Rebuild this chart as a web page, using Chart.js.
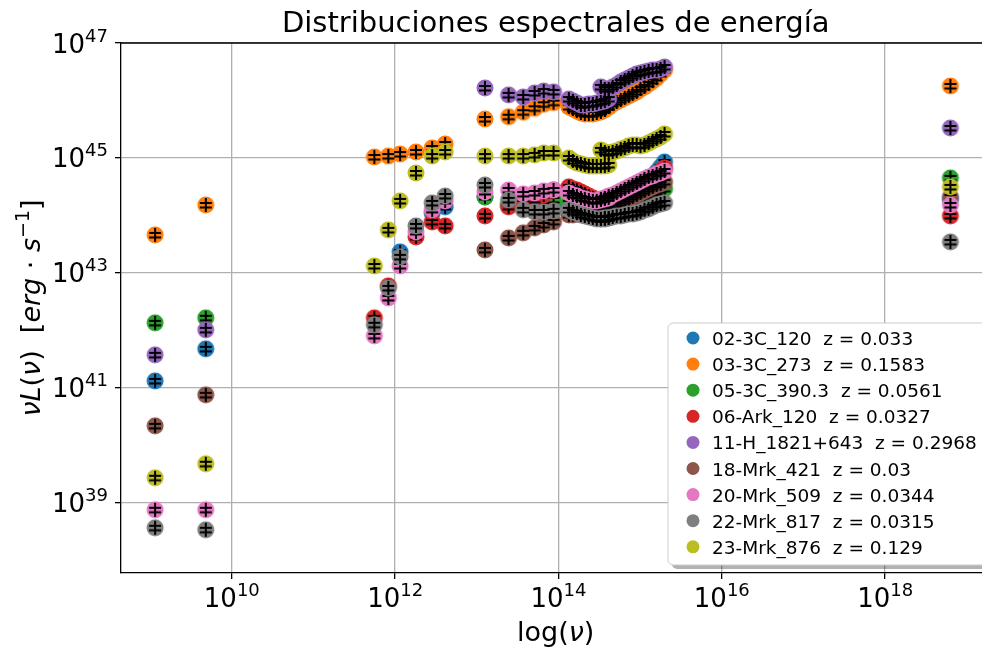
<!DOCTYPE html>
<html>
<head>
<meta charset="utf-8">
<script src="https://cdn.jsdelivr.net/npm/chart.js@4.4.0/dist/chart.umd.min.js"></script>
<style>
  html, body { margin: 0; padding: 0; overflow: hidden; background: #fff; }
  canvas { display: block; }
</style>
</head>
<body>
<canvas id="sedChart" width="1000" height="650"></canvas>
<script>
// frequencies (Hz) of each group of bands
const nuRadio = [1.15e9, 4.8e9];
const nuIR = [5.57e11, 8.26e11, 1.15e12, 1.8e12, 2.84e12, 4.1e12];
const nuFIR = [1.26e13];
const nuMIR = [2.45e13, 3.7e13, 5.1e13, 6.6e13, 8.7e13];
const nuOpt = [1.34e14, 1.50e14, 1.68e14, 1.88e14, 2.10e14, 2.35e14, 2.63e14, 2.94e14, 3.30e14, 3.69e14, 4.12e14];
const nuUV = [3.30e14, 3.69e14, 4.12e14, 4.61e14, 5.16e14, 5.78e14, 6.47e14, 7.24e14, 8.09e14,
  9.06e14, 1.01e15, 1.13e15, 1.27e15, 1.42e15, 1.59e15, 1.78e15, 1.99e15];
const nuX = [6.3e18];

const xTicks = [1e10, 1e12, 1e14, 1e16, 1e18];
const yTicks = [1e39, 1e41, 1e43, 1e45, 1e47];

const labels = ['02-3C_120  z = 0.033', '03-3C_273  z = 0.1583', '05-3C_390.3  z = 0.0561',
  '06-Ark_120  z = 0.0327', '11-H_1821+643  z = 0.2968', '18-Mrk_421  z = 0.03',
  '20-Mrk_509  z = 0.0344', '22-Mrk_817  z = 0.0315', '23-Mrk_876  z = 0.129'];
const colors = ['#1f77b4', '#ff7f0e', '#2ca02c', '#d62728', '#9467bd', '#8c564b', '#e377c2', '#7f7f7f', '#bcbd22'];

// nuL(nu) in erg/s, one entry per frequency: radio(2) ir(6) fir(1) mir(5) opt(11) uv(17) x(1)
const L_02 = [1.32e41, 4.77e41,
  null, null, 2.32e43, null, 1.10e44, 1.41e44,
  2.10e44,
  1.46e44, 1.41e44, 1.46e44, 1.52e44, 1.58e44,
  1.25e44, 1.20e44, 1.15e44, 1.10e44, 1.06e44, 1.02e44, 9.80e43, 9.42e43, 9.06e43, 9.42e43, 9.80e43,
  9.06e43, 9.42e43, 9.42e43, 9.80e43, 1.02e44, 1.10e44, 1.20e44, 1.35e44, 1.52e44, 1.72e44, 2.10e44, 2.56e44,
  3.39e44, 4.49e44, 5.71e44, 6.97e44, 8.51e44,
  1.86e44];
const L_03 = [4.58e43, 1.52e44,
  1.04e45, 1.08e45, 1.17e45, 1.27e45, 1.49e45, 1.75e45,
  4.76e45,
  5.22e45, 6.24e45, 7.31e45, 8.59e45, 9.16e45,
  7.71e45, 7.12e45, 6.57e45, 6.06e45, 5.82e45, 5.82e45, 5.82e45, 6.06e45, 6.31e45, 6.84e45, 7.71e45,
  6.57e45, 7.12e45, 7.71e45, 8.69e45, 9.42e45, 1.02e46, 1.11e46, 1.20e46, 1.30e46, 1.41e46, 1.58e46, 1.72e46,
  1.94e46, 2.18e46, 2.46e46, 2.89e46, 3.39e46,
  1.79e46];
const L_05 = [1.35e42, 1.65e42,
  null, null, null, null, null, null,
  2.10e44,
  1.58e44, 1.65e44, 1.72e44, 1.79e44, 1.86e44,
  1.65e44, 1.58e44, 1.52e44, 1.46e44, 1.41e44, 1.35e44, 1.35e44, 1.35e44, 1.41e44, 1.41e44, 1.46e44,
  1.41e44, 1.46e44, 1.46e44, 1.52e44, 1.58e44, 1.65e44, 1.65e44, 1.79e44, 1.86e44, 1.94e44, 2.10e44, 2.18e44,
  2.27e44, 2.46e44, 2.56e44, 2.77e44, 2.89e44,
  4.49e44];
const L_06 = [null, null,
  1.65e42, 5.94e42, null, 4.23e43, 7.71e43, 6.57e43,
  9.80e43,
  1.41e44, 1.65e44, 1.86e44, 2.27e44, 2.77e44,
  3.13e44, 2.89e44, 2.77e44, 2.56e44, 2.37e44, 2.18e44, 2.01e44, 1.86e44, 1.79e44, 1.79e44, 1.86e44,
  1.79e44, 1.94e44, 2.01e44, 2.10e44, 2.18e44, 2.37e44, 2.56e44, 2.67e44, 2.89e44, 3.01e44, 3.26e44, 3.39e44,
  3.67e44, 4.31e44, 5.06e44, 5.94e44, 6.70e44,
  9.80e43];
const L_11 = [3.75e41, 1.02e42,
  null, null, null, null, null, null,
  1.65e46,
  1.25e46, 1.15e46, 1.35e46, 1.46e46, 1.41e46,
  1.06e46, 9.80e45, 9.05e45, 8.35e45, 8.35e45, 8.69e45, 8.69e45, 9.05e45, 9.42e45, 9.80e45, 1.06e46,
  1.72e46, 1.58e46, 1.58e46, 1.72e46, 1.86e46, 2.10e46, 2.27e46, 2.46e46, 2.67e46, 2.89e46, 3.01e46, 3.13e46,
  3.26e46, 3.39e46, 3.39e46, 3.53e46, 3.83e46,
  3.32e45];
const L_18 = [2.18e40, 7.55e40,
  null, null, null, null, null, null,
  2.51e43,
  4.06e43, 4.97e43, 6.07e43, 6.84e43, 7.71e43,
  1.02e44, 1.02e44, 1.06e44, 1.06e44, 1.10e44, 1.15e44, 1.15e44, 1.20e44, 1.20e44, 1.25e44, 1.30e44,
  1.25e44, 1.30e44, 1.35e44, 1.46e44, 1.52e44, 1.65e44, 1.79e44, 1.94e44, 2.10e44, 2.27e44, 2.46e44, 2.67e44,
  2.89e44, 3.13e44, 3.39e44, 3.53e44, 3.83e44,
  2.10e44];
const L_20 = [7.55e38, 7.55e38,
  8.02e41, 3.67e42, 1.32e43, 5.16e43, 1.25e44, 1.79e44,
  2.56e44,
  2.77e44, 2.37e44, 2.46e44, 2.67e44, 2.77e44,
  2.46e44, 2.27e44, 2.18e44, 2.01e44, 1.94e44, 1.86e44, 1.79e44, 1.79e44, 1.86e44, 1.94e44, 2.01e44,
  1.94e44, 2.01e44, 2.18e44, 2.27e44, 2.46e44, 2.67e44, 2.89e44, 3.13e44, 3.39e44, 3.67e44, 3.98e44, 4.31e44,
  4.67e44, 4.86e44, 5.27e44, 5.48e44, 5.94e44,
  1.52e44];
const L_22 = [3.67e38, 3.39e38,
  1.25e42, 5.48e42, 1.90e43, 6.57e43, 1.65e44, 2.18e44,
  3.39e44,
  1.86e44, 1.25e44, 1.15e44, 1.15e44, 1.20e44,
  1.25e44, 1.15e44, 1.10e44, 1.02e44, 9.80e43, 9.42e43, 9.06e43, 8.69e43, 8.69e43, 8.69e43, 9.06e43,
  8.69e43, 9.06e43, 9.06e43, 9.42e43, 9.80e43, 9.80e43, 1.02e44, 1.06e44, 1.06e44, 1.10e44, 1.15e44, 1.25e44,
  1.30e44, 1.41e44, 1.52e44, 1.58e44, 1.65e44,
  3.46e43];
const L_23 = [2.72e39, 4.77e39,
  1.32e43, 5.60e43, 1.79e44, 5.48e44, 1.08e45, 1.27e45,
  1.08e45,
  1.08e45, 1.08e45, 1.13e45, 1.22e45, 1.22e45,
  1.00e45, 8.87e44, 8.18e44, 7.87e44, 7.55e44, 7.26e44, 7.26e44, 7.26e44, 7.26e44, 7.26e44, 7.55e44,
  1.38e45, 1.27e45, 1.22e45, 1.27e45, 1.32e45, 1.43e45, 1.49e45, 1.62e45, 1.68e45, 1.68e45, 1.62e45, 1.68e45,
  1.82e45, 1.98e45, 2.14e45, 2.32e45, 2.61e45,
  3.13e44];
const series = [L_02, L_03, L_05, L_06, L_11, L_18, L_20, L_22, L_23];

// band index of every frequency; thin lines only inside mir / opt / uv
const bandNu = [nuRadio, nuIR, nuFIR, nuMIR, nuOpt, nuUV, nuX];
const allNu = [], bandOf = [];
bandNu.forEach((arr, b) => arr.forEach(v => { allNu.push(v); bandOf.push(b); }));
const lineBands = [3, 4, 5];

function makeDot(color) {
  const c = document.createElement('canvas');
  c.width = 20; c.height = 20;
  const g = c.getContext('2d');
  g.fillStyle = color;
  g.beginPath(); g.arc(10, 10, 8.5, 0, Math.PI * 2); g.fill();
  return c;
}

// black error bar mark, drawn over the dots of its own series
const barMark = (() => {
  const c = document.createElement('canvas');
  c.width = 20; c.height = 20;
  const g = c.getContext('2d');
  g.strokeStyle = '#000'; g.lineWidth = 2;
  g.beginPath();
  g.moveTo(10, 3); g.lineTo(10, 17);
  g.moveTo(4, 8); g.lineTo(16, 8);
  g.moveTo(4, 12.5); g.lineTo(16, 12.5);
  g.stroke();
  return c;
})();

const n = series.length;
const datasets = [];
series.forEach((vals, i) => {
  const pts = [];
  vals.forEach((v, k) => { if (v !== null) pts.push({ x: allNu[k], y: v, band: bandOf[k] }); });
  datasets.push({
    label: labels[i],
    data: pts,
    pointStyle: makeDot(colors[i]),
    pointRadius: 8.5,
    showLine: true,
    borderWidth: 1,
    borderColor: colors[i],
    segment: {
      borderColor: ctx => {
        const a = pts[ctx.p0DataIndex].band, b = pts[ctx.p1DataIndex].band;
        return (a === b && lineBands.includes(a)) ? colors[i] : 'rgba(0,0,0,0)';
      }
    },
    order: 2 * (n - i)
  });
  datasets.push({
    label: labels[i] + ' err',
    data: pts,
    pointStyle: barMark,
    pointRadius: 8.5,
    showLine: false,
    order: 2 * (n - i) - 1
  });
});

const F = '"DejaVu Sans"';

function drawPow(ctx, exp, x, base, align) {
  const big = '26px ' + F, small = '18px ' + F;
  ctx.font = big; const w1 = ctx.measureText('10').width;
  ctx.font = small; const w2 = ctx.measureText(String(exp)).width;
  let x0 = align === 'right' ? x - w1 - w2 : x - (w1 + w2) / 2;
  ctx.textAlign = 'left'; ctx.textBaseline = 'alphabetic';
  ctx.font = big; ctx.fillText('10', x0, base);
  ctx.font = small; ctx.fillText(String(exp), x0 + w1, base - 11);
}

// mixed upright / italic / superscript text
function drawRich(ctx, parts, size, cx, cy, angle) {
  const fontOf = t => t === 'i' ? 'italic ' + size + 'px ' + F : t === 'sup' ? Math.round(size * 0.7) + 'px ' + F : size + 'px ' + F;
  let total = 0;
  const ws = parts.map(([s, t]) => { ctx.font = fontOf(t); const w = ctx.measureText(s).width; total += w; return w; });
  ctx.save();
  ctx.translate(cx, cy); ctx.rotate(angle);
  ctx.textAlign = 'left'; ctx.textBaseline = 'alphabetic';
  let x = -total / 2;
  parts.forEach(([s, t], k) => {
    ctx.font = fontOf(t);
    ctx.fillText(s, x, t === 'sup' ? -size * 0.42 : 0);
    x += ws[k];
  });
  ctx.restore();
}

const yTitleParts = [['ν', 'i'], ['L', 'i'], ['(', 'n'], ['ν', 'i'], [')', 'n'], ['  [', 'n'], ['erg', 'i'], [' · ', 'n'], ['s', 'i'], ['−1', 'sup'], [']', 'n']];
const xTitleParts = [['log(', 'n'], ['ν', 'i'], [')', 'n']];

const deco = {
  id: 'deco',
  afterDraw(chart) {
    const { ctx, chartArea: a, scales } = chart;
    ctx.save();
    ctx.strokeStyle = '#000'; ctx.lineWidth = 1.3;
    ctx.beginPath();
    ctx.moveTo(a.left, a.top); ctx.lineTo(a.right, a.top);
    ctx.moveTo(a.right, a.top); ctx.lineTo(a.right, a.bottom);
    ctx.stroke();

    ctx.fillStyle = '#000';
    xTicks.forEach(v => drawPow(ctx, Math.round(Math.log10(v)), scales.x.getPixelForValue(v), 607, 'center'));
    yTicks.forEach(v => drawPow(ctx, Math.round(Math.log10(v)), 108, scales.y.getPixelForValue(v) + 9.5, 'right'));

    ctx.font = '29px ' + F; ctx.textAlign = 'center'; ctx.textBaseline = 'alphabetic';
    ctx.fillText('Distribuciones espectrales de energía', (a.left + a.right) / 2, 32);
    drawRich(ctx, xTitleParts, 27, (a.left + a.right) / 2, 641, 0);
    drawRich(ctx, yTitleParts, 27, 40, (a.top + a.bottom) / 2, -Math.PI / 2);

    // legend, lower right inside the axes
    const bx = 668, by = 323, bw = 320, bh = 242, r = 5;
    const box = (x, y) => { ctx.beginPath(); ctx.roundRect(x, y, bw, bh, r); };
    ctx.fillStyle = 'rgba(0,0,0,0.3)'; box(bx + 4, by + 4); ctx.fill();
    ctx.fillStyle = '#fff'; box(bx, by); ctx.fill();
    ctx.strokeStyle = '#cccccc'; ctx.lineWidth = 1; ctx.stroke();
    ctx.font = '18.5px ' + F; ctx.textAlign = 'left'; ctx.textBaseline = 'alphabetic';
    labels.forEach((lab, i) => {
      const y = 338 + i * 26.1;
      ctx.fillStyle = colors[i];
      ctx.beginPath(); ctx.arc(693, y, 6.5, 0, Math.PI * 2); ctx.fill();
      ctx.fillStyle = '#000';
      ctx.fillText(lab, 712, y + 7);
    });
    ctx.restore();
  }
};

const axisCommon = {
  type: 'logarithmic',
  ticks: { display: false },
  grid: { color: '#b0b0b0', lineWidth: 1.3, tickColor: '#000', tickLength: 6, tickWidth: 1.3 },
  border: { color: '#000', width: 1.3 }
};

new Chart(document.getElementById('sedChart'), {
  type: 'scatter',
  data: { datasets },
  options: {
    responsive: false,
    animation: false,
    layout: { padding: { top: 43, right: 7, left: 0, bottom: 0 } },
    plugins: { legend: { display: false }, tooltip: { enabled: false }, title: { display: false } },
    scales: {
      x: Object.assign({}, axisCommon, {
        min: 4.4e8, max: 1.95e19,
        afterBuildTicks: s => { s.ticks = xTicks.map(v => ({ value: v })); },
        afterFit: s => { s.height = 77; }
      }),
      y: Object.assign({}, axisCommon, {
        min: 6.0e37, max: 1e47,
        afterBuildTicks: s => { s.ticks = yTicks.map(v => ({ value: v })); },
        afterFit: s => { s.width = 121; }
      })
    }
  },
  plugins: [deco]
});
</script>
</body>
</html>
